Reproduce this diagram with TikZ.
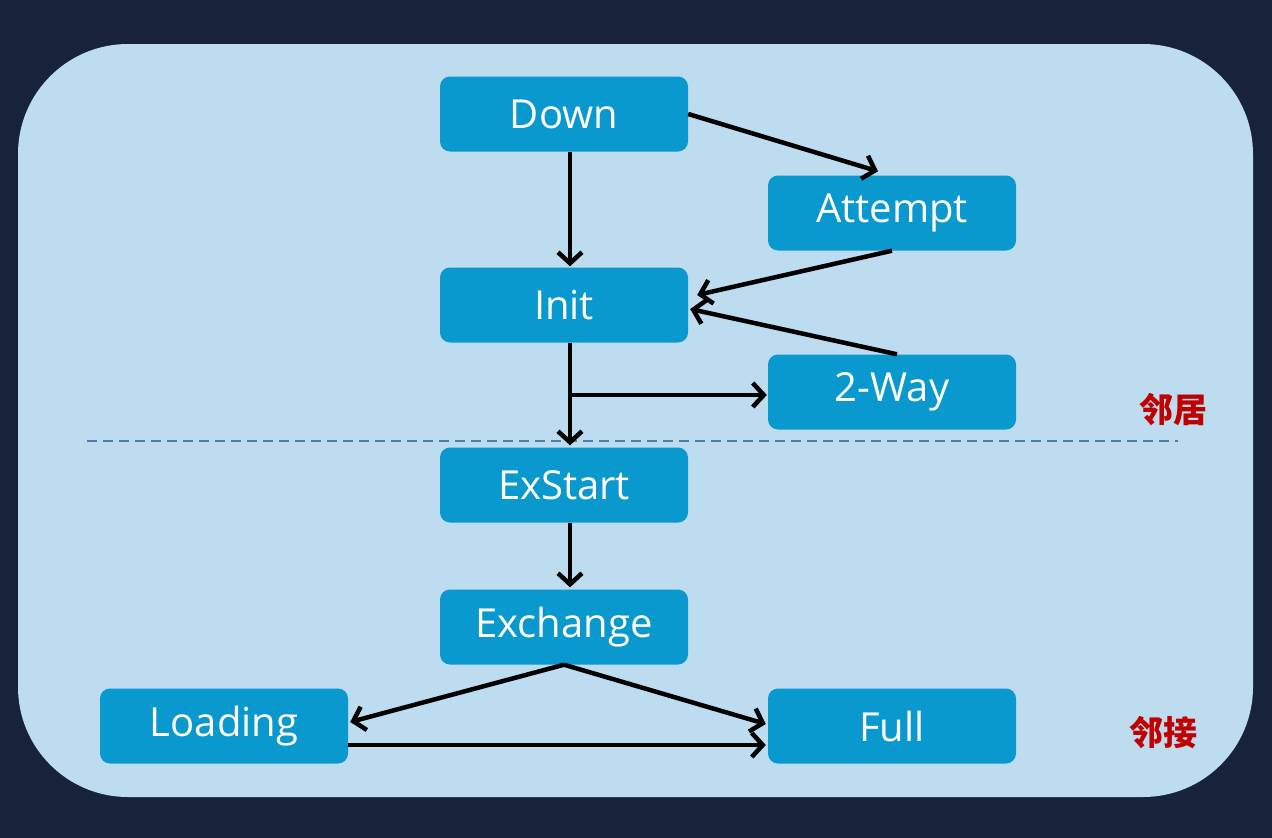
\documentclass[tikz,border=0pt]{standalone}
\usepackage{fontspec}
\setsansfont{Open Sans}
\newfontfamily\cjk{Noto Sans CJK SC}
\usetikzlibrary{arrows.meta}
\definecolor{bgdark}{HTML}{16233A}
\definecolor{panel}{HTML}{BDDCF0}
\definecolor{boxblue}{HTML}{0A99CF}
\definecolor{lblred}{HTML}{C00000}
\definecolor{dashc}{HTML}{4F7FA8}
\begin{document}
\begin{tikzpicture}[x=1pt,y=-1pt,
  statebox/.style={rectangle, rounded corners=10pt, fill=boxblue, minimum width=248pt,
    minimum height=75pt, inner sep=0pt, text=white, font=\sffamily\fontsize{40}{44}\selectfont},
  arr/.style={draw=black, line width=4.5pt, -{Straight Barb[length=11pt,width=24pt]}},
  dashline/.style={draw=dashc, line width=1.5pt, dash pattern=on 10pt off 6pt},
  lbl/.style={text=lblred, font=\cjk\bfseries\fontsize{34}{36}\selectfont, inner sep=0pt}]
\fill[bgdark] (0,0) rectangle (1272,838);
\useasboundingbox (0,0) rectangle (1272,838);
\fill[panel, rounded corners=110pt] (18,44) rectangle (1253,797);

\node[statebox] (down) at (564,114) {Down};
\node[statebox] (attempt) at (892,213) {Attempt};
\node[statebox] (init) at (564,305) {Init};
\node[statebox] (twoway) at (892,392) {2-Way};
\node[statebox] (exstart) at (564,485) {ExStart};
\node[statebox] (exchange) at (564,627) {Exchange};
\node[statebox] (loading) at (224,726) {Loading};
\node[statebox] (full) at (892,726) {Full};

\coordinate (dl) at (87,441);
\coordinate (dr) at (1178,441);
\draw[dashline] (dl) -- (dr);

\draw[arr] ([xshift=6pt]down.south) -- ([xshift=6pt,yshift=1pt]init.north);
\draw[arr] (down.east) -- ([xshift=-14pt,yshift=4pt]attempt.north);
\draw[arr] (attempt.south) -- ([xshift=9pt,yshift=10pt]init.east);
\draw[arr] ([xshift=5pt]twoway.north) -- ([xshift=2pt,yshift=-4pt]init.east);
\draw[arr] ([xshift=6pt]init.south) -- ([xshift=6pt,yshift=2pt]exstart.north);
\coordinate (br) at (570,395);
\draw[arr] (br) -- ([xshift=-1pt]twoway.west |- br);
\draw[arr] ([xshift=6pt]exstart.south) -- ([xshift=6pt,yshift=2pt]exchange.north);
\draw[arr] (exchange.south) -- ([xshift=2pt,yshift=4pt]loading.east);
\draw[arr] (exchange.south) -- ([xshift=-2pt,yshift=2pt]full.west);
\draw[arr] ([yshift=-19pt]loading.east) -- ([xshift=-2pt,yshift=-19pt]full.west);

\node[lbl] (lb1) at (1173,410) {邻居};
\node[lbl] (lb2) at (1163,733) {邻接};
\end{tikzpicture}
\end{document}
